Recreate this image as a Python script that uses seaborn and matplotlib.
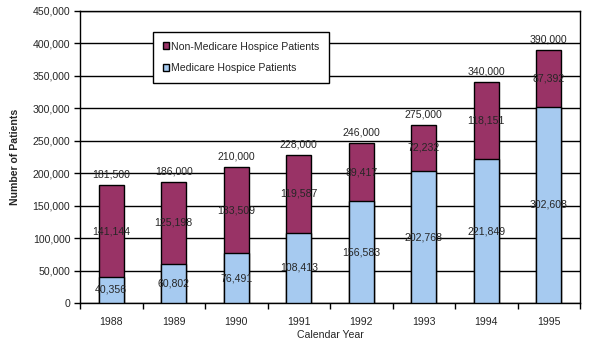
import matplotlib
matplotlib.use("Agg")
import matplotlib.pyplot as plt
import seaborn as sns
import pandas as pd
import numpy as np
from matplotlib.ticker import FuncFormatter, FixedLocator
from matplotlib.patches import Patch

years = ["1988", "1989", "1990", "1991", "1992", "1993", "1994", "1995"]
medicare = [40356, 60802, 76491, 108413, 156583, 202768, 221849, 302608]
non_medicare = [141144, 125198, 133509, 119587, 89417, 72232, 118151, 87392]
totals = [181500, 186000, 210000, 228000, 246000, 275000, 340000, 390000]

purple = "#993366"
blue = "#A6CAF0"

sns.set_theme(style="white")
plt.rcParams["font.family"] = ["Liberation Sans", "DejaVu Sans"]

df = pd.DataFrame({"year": years, "medicare": medicare,
                   "non_medicare": non_medicare, "total": totals})

fig = plt.figure(figsize=(5.91, 3.48), dpi=100)
ax = fig.add_axes([80 / 591, 1 - 303 / 348, 500 / 591, 292 / 348])

# stacked bars: full height in purple, Medicare portion drawn over it
sns.barplot(data=df, x="year", y="total", color=purple, width=0.4,
            edgecolor="black", linewidth=1, saturation=1, ax=ax, zorder=3)
sns.barplot(data=df, x="year", y="medicare", color=blue, width=0.4,
            edgecolor="black", linewidth=1, saturation=1, ax=ax, zorder=3)

fs = 7.6
for i in range(len(years)):
    m, n, t = medicare[i], non_medicare[i], totals[i]
    ax.text(i, m / 2, f"{m:,}", ha="center", va="center", fontsize=fs, zorder=5)
    ax.text(i, m + n / 2, f"{n:,}", ha="center", va="center", fontsize=fs, zorder=5)
    ax.annotate(f"{t:,}", (i, t), xytext=(0, 4), textcoords="offset points",
                ha="center", va="bottom", fontsize=fs, zorder=5)

ax.set_ylim(0, 450000)
ax.set_xlim(-0.5, len(years) - 0.5)
ax.yaxis.set_major_locator(FixedLocator(np.arange(0, 450001, 50000)))
ax.yaxis.set_major_formatter(FuncFormatter(lambda v, p: f"{int(v):,}"))
ax.yaxis.grid(True, color="black", linewidth=1, zorder=0)
ax.set_axisbelow(True)

ax.set_xticks(range(len(years)))
ax.set_xticklabels(years)
ax.set_xticks(np.arange(-0.5, len(years), 1.0), minor=True)
ax.tick_params(axis="x", which="major", length=0, pad=10, labelsize=fs)
ax.tick_params(axis="x", which="minor", length=4, width=1, color="black",
               direction="out", bottom=True)
ax.tick_params(axis="y", which="major", length=4, width=1, color="black",
               direction="out", left=True, labelsize=fs, pad=3)

for s in ax.spines.values():
    s.set_color("black")
    s.set_linewidth(1)

ax.set_xlabel("Calendar Year", fontsize=fs, labelpad=2)
ax.set_ylabel("Number of Patients", fontsize=fs, fontweight="bold", labelpad=9)

handles = [Patch(facecolor=purple, edgecolor="black", label="Non-Medicare Hospice Patients"),
           Patch(facecolor=blue, edgecolor="black", label="Medicare Hospice Patients")]
leg = ax.legend(handles=handles, loc="upper left",
                bbox_to_anchor=((153 - 80) / 500, (303 - 32) / 292),
                fontsize=fs, frameon=True, fancybox=False, framealpha=1,
                edgecolor="black", handlelength=0.6, handleheight=0.6,
                handletextpad=0.25, labelspacing=1.1, borderpad=0.9,
                borderaxespad=0)
leg.get_frame().set_linewidth(1)
leg.set_zorder(6)

fig.savefig("out.png", dpi=100)
